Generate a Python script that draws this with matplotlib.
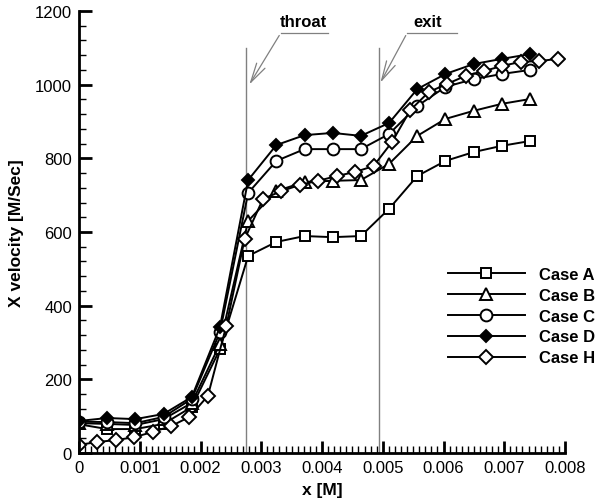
import numpy as np
from matplotlib import pyplot as plt
from matplotlib.ticker import MultipleLocator

plt.rcParams['font.family'] = ['Liberation Sans', 'DejaVu Sans']

# marker spacing of cases A-D and of case H (x in metres)
x_abcd = np.arange(17) * 0.000464
x_h = np.arange(27) * 0.000303

case_a = [78, 65, 65, 79, 125, 282, 535, 573, 589, 586, 589, 663, 752, 793, 817, 834, 847]
case_b = [81, 79, 76, 92, 136, 296, 630, 711, 736, 739, 741, 785, 861, 907, 929, 948, 961]
case_c = [85, 84, 81, 98, 147, 328, 706, 793, 825, 825, 825, 866, 942, 994, 1015, 1029, 1040]
case_d = [87, 95, 92, 106, 152, 342, 741, 836, 863, 869, 861, 896, 988, 1029, 1056, 1070, 1083]
case_h = [22, 30, 35, 43, 57, 73, 98, 155, 345, 581, 690, 711, 728, 739, 752, 763, 779,
          844, 931, 980, 1002, 1024, 1037, 1051, 1062, 1064, 1070]

throat_x = 0.00275
exit_x = 0.00493

fig = plt.figure(figsize=(6.05, 5.02), dpi=100)
ax = fig.add_axes([0.1306, 0.0956, 0.8033, 0.8805])

# throat / exit markers
ax.plot([throat_x, throat_x], [0, 1100], color="#808080", linewidth=1)
ax.plot([exit_x, exit_x], [0, 1100], color="#808080", linewidth=1)

common = dict(color="black", linewidth=1.4, markeredgewidth=1.4, markeredgecolor="black")
ax.plot(x_abcd, case_a, marker="s", markersize=7, markerfacecolor="white", label="Case A", **common)
ax.plot(x_abcd, case_b, marker="^", markersize=8.5, markerfacecolor="white", label="Case B", **common)
ax.plot(x_abcd, case_c, marker="o", markersize=8.5, markerfacecolor="white", label="Case C", **common)
ax.plot(x_abcd, case_d, marker="D", markersize=6.5, markerfacecolor="black", label="Case D", **common)
ax.plot(x_h, case_h, marker="D", markersize=7.5, markerfacecolor="white", label="Case H", **common)

# labels with underline + arrow
for label, tx, x0, x1, tip in [("throat", 0.00369, 0.00332, 0.0041, (0.00278, 994)),
                               ("exit", 0.00574, 0.00540, 0.00622, (0.00494, 999))]:
    ax.text(tx, 1172, label, ha="center", va="center", fontsize=12, fontweight="bold")
    ax.plot([x0, x1], [1140, 1140], color="#808080", linewidth=0.9)
    ax.annotate("", xy=tip, xytext=(x0, 1140),
                arrowprops=dict(arrowstyle="->,head_length=1.4,head_width=0.35",
                                color="#808080", linewidth=0.9))

ax.set_xlim(0, 0.008)
ax.set_ylim(0, 1200)
ax.xaxis.set_major_locator(MultipleLocator(0.001))
ax.xaxis.set_minor_locator(MultipleLocator(0.0001))
ax.yaxis.set_major_locator(MultipleLocator(200))
ax.yaxis.set_minor_locator(MultipleLocator(40))
ax.xaxis.set_major_formatter(plt.FuncFormatter(lambda v, p: "0" if abs(v) < 1e-12 else f"{v:.3f}"))

for side in ["top", "right"]:
    ax.spines[side].set_visible(False)
for side in ["left", "bottom"]:
    ax.spines[side].set_linewidth(2)

ax.tick_params(axis="both", which="major", direction="in", length=9, width=2, labelsize=12, pad=5)
ax.tick_params(axis="both", which="minor", direction="in", length=5, width=1)

ax.set_xlabel("x [M]", fontsize=12.5, fontweight="bold", labelpad=5)
ax.set_ylabel("X velocity [M/Sec]", fontsize=12.5, fontweight="bold", labelpad=8)

leg = ax.legend(loc="upper left", bbox_to_anchor=(448 / 605, 1 - 268 / 502),
                bbox_transform=fig.transFigure, frameon=False, borderpad=0, borderaxespad=0,
                handlelength=4.6, handletextpad=0.85, labelspacing=0.35,
                prop={"size": 12, "weight": "bold"})

plt.savefig("out.png", dpi=100)
